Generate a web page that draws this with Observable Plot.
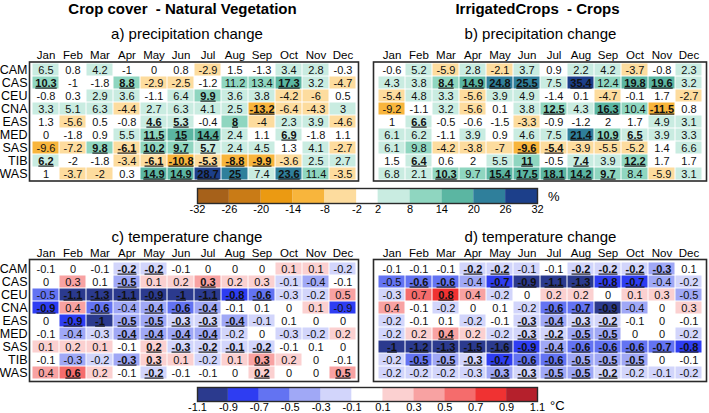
<!DOCTYPE html>
<html><head><meta charset="utf-8">
<script src="https://cdn.jsdelivr.net/npm/d3@7"></script>
<script src="https://cdn.jsdelivr.net/npm/@observablehq/plot@0.6"></script>
<style>
body{margin:0;background:#fff;font-family:"Liberation Sans",Arial,sans-serif;}
#root{position:relative;width:709px;height:413px;overflow:hidden;background:#fff;}
.abs{position:absolute;}
.title{font-weight:bold;font-size:15px;line-height:16px;text-align:center;color:#000;z-index:2;}
.sub{font-size:15px;line-height:17px;text-align:center;color:#000;z-index:2;}
.unit{font-size:13px;color:#000;z-index:2;}
g[font-weight="bold"] text, text[font-weight="bold"]{text-decoration:underline;}
.heat g[aria-label="y-axis tick label"] text, .heat g[aria-label="y-axis"] text{font-size:12.5px;}
.heat g[aria-label="x-axis tick label"] text, .heat g[aria-label="x-axis"] text{font-size:11.5px;}
</style>
</head><body>
<div id="root">
  <div class="abs heat" id="pa" style="left:0;top:40px;"></div>
  <div class="abs heat" id="pb" style="left:360px;top:40px;"></div>
  <div class="abs heat" id="pc" style="left:0;top:236px;"></div>
  <div class="abs heat" id="pd" style="left:360px;top:236px;"></div>
  <div class="abs" id="cb1" style="left:190px;top:185px;"></div>
  <div class="abs" id="cb2" style="left:190px;top:384px;"></div>
  <div class="abs title" style="left:0;top:1px;width:365px;">Crop cover&nbsp; - Natural Vegetation</div>
  <div class="abs title" style="left:360px;top:1px;width:355px;">IrrigatedCrops&nbsp; - Crops</div>
  <div class="abs sub" style="left:0;top:25px;width:374px;">a) precipitation change</div>
  <div class="abs sub" style="left:373px;top:25px;width:335px;">b) precipitation change</div>
  <div class="abs sub" style="left:0;top:228px;width:374px;">c) temperature change</div>
  <div class="abs sub" style="left:373px;top:228px;width:335px;">d) temperature change</div>
  <div class="abs unit" style="left:548px;top:189px;">%</div>
  <div class="abs unit" style="left:550px;top:398px;">°C</div>
</div>
<script>
const months = ["Jan","Feb","Mar","Apr","May","Jun","Jul","Aug","Sep","Oct","Nov","Dec"];
const regions = ["CAM","CAS","CEU","CNA","EAS","MED","SAS","TIB","WAS"];

// a) precipitation change (%), Crop cover - Natural Vegetation
const precipNatVeg = [
  [6.5,0.8,4.2,-1,0,0.8,-2.9,1.5,-1.3,3.4,2.8,-0.3],
  [10.3,-1,-1.8,8.8,-2.9,-2.5,-1.2,11.2,13.4,17.3,3.2,-4.7],
  [-0.8,0.3,2.9,3.6,-1.1,6.4,9.9,3.6,3.8,-4.2,-6,0.5],
  [3.3,5.1,6.3,-4.4,2.7,6.3,4.1,2.5,-13.2,-6.4,-4.3,3],
  [1.3,-5.6,0.5,-0.8,4.6,5.3,-0.4,8.02,-4,2.3,3.9,-4.6],
  [0,-1.8,0.9,5.5,11.5,15,14.4,2.4,1.1,6.9,-1.8,1.1],
  [-9.6,-7.2,9.8,-6.1,10.2,9.7,5.7,2.4,4.5,1.3,4.1,-2.7],
  [6.2,-1.98,-1.8,-3.4,-6.1,-10.8,-5.3,-8.8,-9.9,-3.6,2.5,2.7],
  [1,-3.7,-2.04,0.3,14.9,14.9,28.7,25,7.4,23.6,11.4,-3.5]
];
const sigPrecipNatVeg = ["000000000000","100100000100","000000100000","000000001000","000011010000","000011100100","001111100000","100011111000","000011110100"];

// b) precipitation change (%), IrrigatedCrops - Crops
const precipIrrig = [
  [-0.6,5.2,-5.9,2.8,-2.1,3.7,0.9,2.2,4.2,-3.7,-0.8,2.3],
  [4.3,3.8,8.4,14.9,24.8,25.5,7.5,35.4,12.4,19.8,19.6,3.2],
  [-5.4,4.8,3.3,-5.6,3.9,4.9,-1.4,0.1,-4.7,-0.1,1.7,-2.7],
  [-9.2,-1.1,3.2,-5.6,0.1,3.8,12.5,4.3,16.3,10.4,-11.5,0.8],
  [1,6.6,-0.5,-0.6,-1.5,-3.3,-0.9,-1.2,1.98,1.7,4.9,3.1],
  [6.1,6.2,-1.1,3.9,0.9,4.6,7.5,21.4,10.9,6.5,3.9,3.3],
  [6.1,9.8,-4.2,-3.8,-7,-9.6,-5.4,-3.9,-5.5,-5.2,1.4,6.6],
  [1.5,6.4,0.6,1.98,5.5,11,-0.5,7.4,3.9,12.2,1.7,1.7],
  [6.8,2.1,10.3,9.7,15.4,17.5,18.1,14.2,9.7,8.4,-5.9,3.1]
];
const sigPrecipIrrig = ["000000000000","001111010110","000000000000","000000101010","010000000000","000000011100","000001100000","010001010100","001011111000"];

// c) temperature change (°C), Crop cover - Natural Vegetation
const tempNatVeg = [
  [-0.08,0,-0.08,-0.2,-0.2,-0.08,0,0,0,0.12,0.12,-0.2],
  [0,0.32,0.08,-0.48,0.12,0.2,0.32,0.2,0.28,-0.12,-0.4,-0.08],
  [-0.52,-1.1,-1.3,-1.1,-0.92,-1,-1.1,-0.8,-0.6,-0.28,-0.2,0.48],
  [-0.88,0.4,-0.6,-0.4,-0.4,-0.6,-0.4,-0.08,0.08,0,0.12,-0.88],
  [0,-0.88,-1,-0.48,-0.48,-0.28,-0.28,-0.4,-0.12,0.08,0,0],
  [-0.08,-0.4,-0.28,-0.4,-0.4,-0.4,-0.4,-0.2,0,-0.28,-0.2,0.2],
  [0.12,0.2,0.12,-0.08,0.2,-0.28,-0.2,-0.12,-0.2,-0.08,0.08,0],
  [-0.08,-0.32,-0.2,-0.32,0.28,0.12,-0.2,0.12,0.32,0.2,0,-0.08],
  [0.4,0.6,0.2,-0.08,-0.2,-0.08,-0.08,0,0.2,0,0,0.48]
];
const sigTempNatVeg = ["000110000000","000100100000","011111111000","101011100000","011111110000","000111100000","000011111000","000110001000","010010001001"];

// d) temperature change (°C), IrrigatedCrops - Crops
const tempIrrig = [
  [-0.08,-0.08,-0.08,-0.2,-0.2,-0.12,-0.08,-0.2,-0.2,-0.2,-0.32,0.08],
  [-0.52,-0.6,-0.6,-0.4,-0.72,-0.92,-1.1,-1.3,-0.8,-0.72,-0.4,-0.2],
  [-0.28,0.68,0.8,0.4,-0.2,0,0.2,0.2,0,0.12,0.28,-0.48],
  [0.4,-0.08,-0.2,0,0.08,-0.2,-0.6,-0.68,-0.92,-0.4,0,0.28],
  [-0.2,-0.08,0.08,-0.2,-0.08,-0.28,-0.4,-0.28,-0.2,-0.08,0,-0.08],
  [-0.2,0.2,0.4,0.2,-0.2,-0.28,-0.2,-0.48,-0.48,0,0,-0.2],
  [-1,-1.2,-1.3,-1.5,-1.6,-0.88,-0.4,-0.6,-0.6,-0.6,-0.68,-0.8],
  [-0.2,-0.52,-0.48,-0.28,-0.72,-0.6,-0.6,-0.48,-0.48,-0.48,0,-0.08],
  [-0.2,-0.2,-0.2,-0.28,-0.32,-0.28,-0.48,-0.48,-0.2,-0.2,-0.12,-0.2]
];
const sigTempIrrig = ["000110011110","011011111100","001000000000","000000111000","000001111000","001001111000","111111111111","011111111100","000011111000"];

// colour scales
const precipEdges = [-32,-26,-20,-14,-8,-2,2,8,14,20,26,32];
const precipColors = ["#a6611a","#c97b16","#eb9a12","#f8b53c","#fddc9e","#ffffff","#c9ece1","#8fd6c0","#5bb6a2","#2f7f9b","#1c3f8a"];
const tempEdges = [-1.1,-0.9,-0.7,-0.5,-0.3,-0.1,0.1,0.3,0.5,0.7,0.9,1.1];
const tempColors = ["#2b3a8e","#2e3df2","#6373f2","#a0a8f6","#d2d5fb","#ffffff","#fbd0d0","#f8a2a2","#f56c6c","#f03232","#b5202c"];

const FONT = "'Liberation Sans', Arial, sans-serif";
const fmt = v => { const s = +(+v).toFixed(1); return String(Object.is(s, -0) ? 0 : s); };

function heat(values, sig, edges, colors, o) {
  const data = [];
  regions.forEach((r, i) => months.forEach((m, j) =>
    data.push({region: r, month: m, value: values[i][j], sig: sig[i][j] === "1"})));
  const svg = Plot.plot({
    width: o.width, height: o.height,
    marginLeft: o.marginLeft, marginRight: o.marginRight, marginTop: o.marginTop, marginBottom: o.marginBottom,
    style: {fontFamily: FONT, fontSize: "11px", background: "transparent", color: "black", overflow: "visible"},
    x: {domain: months, axis: "top", tickSize: 0, tickPadding: 3, label: null, padding: 0},
    y: {domain: regions, axis: o.showY ? "left" : null, tickSize: 0, tickPadding: 2, label: null, padding: 0},
    color: {type: "threshold", domain: edges.slice(1, -1), range: colors},
    marks: [
      Plot.cell(data, {x: "month", y: "region", fill: "value", inset: 0.5}),
      Plot.text(data.filter(d => !d.sig), {x: "month", y: "region", text: d => fmt(d.value), fontSize: 11, fill: "#111"}),
      Plot.text(data.filter(d => d.sig), {x: "month", y: "region", text: d => fmt(d.value), fontSize: 11, fontWeight: "bold", fill: "#111"}),
      Plot.frame({stroke: "#2a2a2a", strokeWidth: 1.6})
    ]
  });
  d3.select(svg).selectAll('[font-weight="bold"] text, text[font-weight="bold"]')
    .style("text-decoration", "underline");
  return svg;
}

function colorbar(edges, colors, h, mb) {
  const bins = d3.pairs(edges).map(([a, b]) => ({x1: a, x2: b, mid: (a + b) / 2}));
  return Plot.plot({
    width: 360, height: h, marginLeft: 7, marginRight: 13, marginTop: 3, marginBottom: mb,
    style: {fontFamily: FONT, fontSize: "11px", background: "transparent", color: "black", overflow: "visible"},
    x: {domain: [edges[0], edges[edges.length - 1]], ticks: edges, tickFormat: fmt, tickSize: 0, tickPadding: 2, label: null},
    y: {domain: [0, 1], axis: null},
    color: {type: "threshold", domain: edges.slice(1, -1), range: colors},
    marks: [
      Plot.rect(bins, {x1: "x1", x2: "x2", y1: () => 0, y2: () => 1, fill: "mid"}),
      Plot.frame({stroke: "#2a2a2a", strokeWidth: 1.4})
    ]
  });
}

document.getElementById("pa").append(heat(precipNatVeg, sigPrecipNatVeg, precipEdges, precipColors,
  {width: 362, height: 144, marginLeft: 29, marginRight: 4, marginTop: 21.5, marginBottom: 3.5, showY: true}));
document.getElementById("pb").append(heat(precipIrrig, sigPrecipIrrig, precipEdges, precipColors,
  {width: 349, height: 144, marginLeft: 13, marginRight: 3, marginTop: 21.5, marginBottom: 3.5, showY: false}));
document.getElementById("pc").append(heat(tempNatVeg, sigTempNatVeg, tempEdges, tempColors,
  {width: 362, height: 148, marginLeft: 29, marginRight: 4, marginTop: 23, marginBottom: 3, showY: true}));
document.getElementById("pd").append(heat(tempIrrig, sigTempIrrig, tempEdges, tempColors,
  {width: 349, height: 148, marginLeft: 13, marginRight: 3, marginTop: 23, marginBottom: 3, showY: false}));
document.getElementById("cb1").append(colorbar(precipEdges, precipColors, 34, 16));
document.getElementById("cb2").append(colorbar(tempEdges, tempColors, 29, 12));
</script>
</body></html>
